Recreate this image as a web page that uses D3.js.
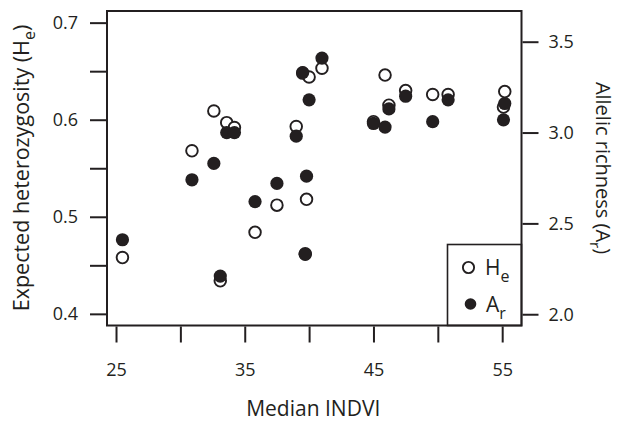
<!DOCTYPE html>
<html>
<head>
<meta charset="utf-8">
<script src="https://cdn.jsdelivr.net/npm/d3@7"></script>
<style>
  body { margin: 0; background: #fff; }
  text { font-family: "Open Sans", sans-serif; fill: #231f20; }
</style>
</head>
<body>
<div id="chart"></div>
<script>
// median INDVI per site, expected heterozygosity (He) and allelic richness (Ar)
const indvi = [25.5, 30.9, 32.6, 33.1, 33.6, 34.2, 35.8, 37.5, 39.0, 39.5, 40.0, 39.8, 39.7, 41.0,
               45.0, 45.9, 46.2, 47.5, 49.6, 50.8, 55.2, 55.1]
const he = [0.458, 0.568, 0.609, 0.434, 0.597, 0.592, 0.484, 0.512, 0.593, 0.648, 0.644, 0.518, 0.462, 0.653,
            0.598, 0.646, 0.615, 0.630, 0.626, 0.626, 0.629, 0.613]
const ar = [2.41, 2.74, 2.83, 2.21, 3.00, 3.00, 2.62, 2.72, 2.98, 3.33, 3.18, 2.76, 2.33, 3.41,
            3.05, 3.03, 3.13, 3.20, 3.06, 3.18, 3.16, 3.07]

const xTicks = [25, 30, 35, 40, 45, 50, 55]
const xLabels = [25, 35, 45, 55]
const heTicks = [0.4, 0.45, 0.5, 0.55, 0.6, 0.65, 0.7]
const heLabels = [0.4, 0.5, 0.6, 0.7]
const arTicks = [2.0, 2.5, 3.0, 3.5]

const width = 617
const height = 423
const box = { left: 107, right: 521.5, top: 11, bottom: 325.5 }

const svg = d3.select("#chart")
    .append("svg")
    .attr("width", width)
    .attr("height", height)

var x = d3.scaleLinear().domain([24.3, 56.5]).range([box.left, box.right])
var yHe = d3.scaleLinear().domain([0.388, 0.712]).range([box.bottom, box.top])
var yAr = d3.scaleLinear().domain([1.938, 3.669]).range([box.bottom, box.top])

const tickLen = 16
const ink = "#231f20"

// bottom axis
svg.append("g")
    .attr("transform", "translate(0," + (box.bottom + 1) + ")")
    .call(d3.axisBottom(x).tickValues(xTicks).tickSize(tickLen).tickSizeOuter(0)
        .tickFormat(d => xLabels.includes(d) ? d : ""))
    .call(g => g.select(".domain").remove())
    .call(g => g.selectAll("line").attr("stroke", ink).attr("stroke-width", 2))
    .call(g => g.selectAll("text").attr("dy", 0).attr("y", 49).style("font-size", "18px"))

// left axis
svg.append("g")
    .attr("transform", "translate(" + (box.left - 1) + ",0)")
    .call(d3.axisLeft(yHe).tickValues(heTicks).tickSize(tickLen).tickSizeOuter(0)
        .tickFormat(d => heLabels.some(v => Math.abs(v - d) < 1e-9) ? d3.format(".1f")(d) : ""))
    .call(g => g.select(".domain").remove())
    .call(g => g.selectAll("line").attr("stroke", ink).attr("stroke-width", 2))
    .call(g => g.selectAll("text").attr("x", -28).style("font-size", "18px"))

// right axis
svg.append("g")
    .attr("transform", "translate(" + (box.right + 1) + ",0)")
    .call(d3.axisRight(yAr).tickValues(arTicks).tickSize(tickLen).tickSizeOuter(0)
        .tickFormat(d3.format(".1f")))
    .call(g => g.select(".domain").remove())
    .call(g => g.selectAll("line").attr("stroke", ink).attr("stroke-width", 2))
    .call(g => g.selectAll("text").attr("x", 26).style("font-size", "18px"))

svg.selectAll(".tick text").attr("fill", ink).style("font-family", "'Open Sans', sans-serif")

// axis titles
svg.append("text")
    .attr("x", (box.left + box.right) / 2 - 1)
    .attr("y", 416)
    .attr("text-anchor", "middle")
    .style("font-size", "21px")
    .text("Median INDVI")

const leftTitle = svg.append("text")
    .attr("transform", "translate(29," + 168 + ") rotate(-90)")
    .attr("text-anchor", "middle")
    .style("font-size", "21.5px")
leftTitle.append("tspan").text("Expected heterozygosity (H")
leftTitle.append("tspan").attr("dy", 6).style("font-size", "16px").text("e")
leftTitle.append("tspan").attr("dy", -6).text(")")

const rightTitle = svg.append("text")
    .attr("transform", "translate(596," + 168 + ") rotate(90)")
    .attr("text-anchor", "middle")
    .style("font-size", "20px")
rightTitle.append("tspan").text("Allelic richness (A")
rightTitle.append("tspan").attr("dy", 6).style("font-size", "15px").text("r")
rightTitle.append("tspan").attr("dy", -6).text(")")

// points: He open circles first, Ar filled on top
const sites = indvi.map((v, i) => ({ x: v, he: he[i], ar: ar[i] }))

svg.append("g").selectAll("circle")
    .data(sites)
    .join("circle")
    .attr("cx", d => x(d.x))
    .attr("cy", d => yHe(d.he))
    .attr("r", 5.8)
    .attr("fill", "white")
    .attr("stroke", ink)
    .attr("stroke-width", 1.9)

svg.append("g").selectAll("circle")
    .data(sites)
    .join("circle")
    .attr("cx", d => x(d.x))
    .attr("cy", d => yAr(d.ar))
    .attr("r", 6.6)
    .attr("fill", ink)

// legend
const lg = { left: 447.5, top: 244.5 }
svg.append("rect")
    .attr("x", lg.left)
    .attr("y", lg.top)
    .attr("width", box.right - lg.left)
    .attr("height", box.bottom - lg.top)
    .attr("fill", "white")
    .attr("stroke", ink)
    .attr("stroke-width", 1.6)

svg.append("circle")
    .attr("cx", 468.5).attr("cy", 267.5).attr("r", 5.6)
    .attr("fill", "white").attr("stroke", ink).attr("stroke-width", 1.9)
svg.append("circle")
    .attr("cx", 470.5).attr("cy", 304).attr("r", 5.8)
    .attr("fill", ink)

const heLeg = svg.append("text").attr("x", 485).attr("y", 275).style("font-size", "21px")
heLeg.append("tspan").text("H")
heLeg.append("tspan").attr("dy", 7).style("font-size", "16px").text("e")

const arLeg = svg.append("text").attr("x", 486).attr("y", 312).style("font-size", "21px")
arLeg.append("tspan").text("A")
arLeg.append("tspan").attr("dy", 7).style("font-size", "16px").text("r")

// frame
svg.append("rect")
    .attr("x", box.left)
    .attr("y", box.top)
    .attr("width", box.right - box.left)
    .attr("height", box.bottom - box.top)
    .attr("fill", "none")
    .attr("stroke", ink)
    .attr("stroke-width", 2)
</script>
</body>
</html>
